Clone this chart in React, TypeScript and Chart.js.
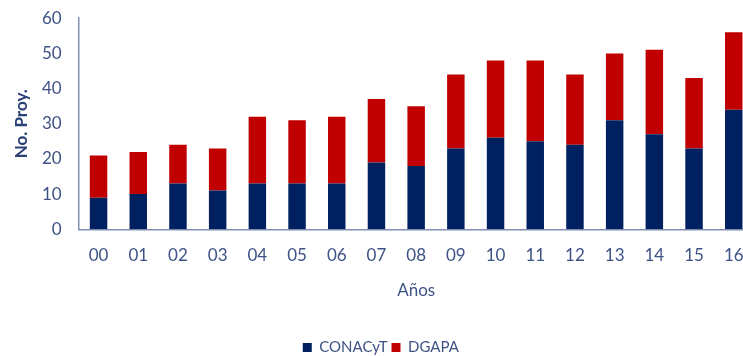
import React, { useEffect, useRef } from "react";
import { Chart, registerables } from "chart.js";

Chart.register(...registerables);

// Research projects per year, split by funding source
const years = ["00", "01", "02", "03", "04", "05", "06", "07", "08", "09", "10", "11", "12", "13", "14", "15", "16"];
const conacyt = [9, 10, 13, 11, 13, 13, 13, 19, 18, 23, 26, 25, 24, 31, 27, 23, 34];
const dgapa = [12, 12, 11, 12, 19, 18, 19, 18, 17, 21, 22, 23, 20, 19, 24, 20, 22];
const yTicks = [0, 10, 20, 30, 40, 50, 60];

const NAVY = "#002060";
const RED = "#C00000";
const TEXT = "#3e5286";
const AXIS = "#8090b4";
const FONT = "Lato, 'Open Sans', sans-serif";

export default function App() {
  const ref = useRef<HTMLCanvasElement | null>(null);

  useEffect(() => {
    if (!ref.current) return;
    const chart = new Chart(ref.current, {
      type: "bar",
      data: {
        labels: years,
        datasets: [
          { label: "CONACyT", data: conacyt, backgroundColor: NAVY, categoryPercentage: 1, barPercentage: 0.44 },
          { label: "DGAPA", data: dgapa, backgroundColor: RED, categoryPercentage: 1, barPercentage: 0.44 },
        ],
      },
      options: {
        animation: false,
        responsive: false,
        maintainAspectRatio: false,
        layout: { padding: { top: 0, left: 0, right: 24.4, bottom: 0 } },
        plugins: {
          tooltip: { enabled: false },
          legend: {
            position: "bottom",
            labels: { boxWidth: 9, boxHeight: 9, padding: 4, color: TEXT, font: { family: FONT, size: 15 } },
          },
        },
        scales: {
          x: {
            stacked: true,
            afterFit: (s: any) => {
              s.height = 106.7;
            },
            grid: { display: false, drawTicks: false },
            border: { display: true, color: AXIS, width: 1.5 },
            ticks: { color: TEXT, padding: 16, font: { family: FONT, size: 17 }, maxRotation: 0, autoSkip: false },
            title: {
              display: true,
              text: "Años",
              color: TEXT,
              font: { family: FONT, size: 17 },
              padding: { top: 0, bottom: 35.5 },
            },
          },
          y: {
            stacked: true,
            min: 0,
            max: 60,
            afterBuildTicks: (s: any) => {
              s.ticks = yTicks.map((v) => ({ value: v }));
            },
            afterFit: (s: any) => {
              s.width = 70.7;
            },
            grid: { display: false, drawTicks: false },
            border: { display: true, color: AXIS, width: 1.5 },
            ticks: { color: TEXT, padding: 17, font: { family: FONT, size: 17 } },
            title: {
              display: true,
              text: "No. Proy.",
              color: "#2a4077",
              font: { family: FONT, size: 17, weight: "bold" },
              padding: { top: 3.8, bottom: 0 },
            },
          },
        },
      },
    });
    return () => chart.destroy();
  }, []);

  return (
    <div style={{ position: "fixed", top: 0, left: 0, width: 743, height: 356, overflow: "hidden", background: "#fff" }}>
      <canvas ref={ref} width={770} height={374} style={{ position: "absolute", left: 8, top: -9, display: "block" }} />
    </div>
  );
}
